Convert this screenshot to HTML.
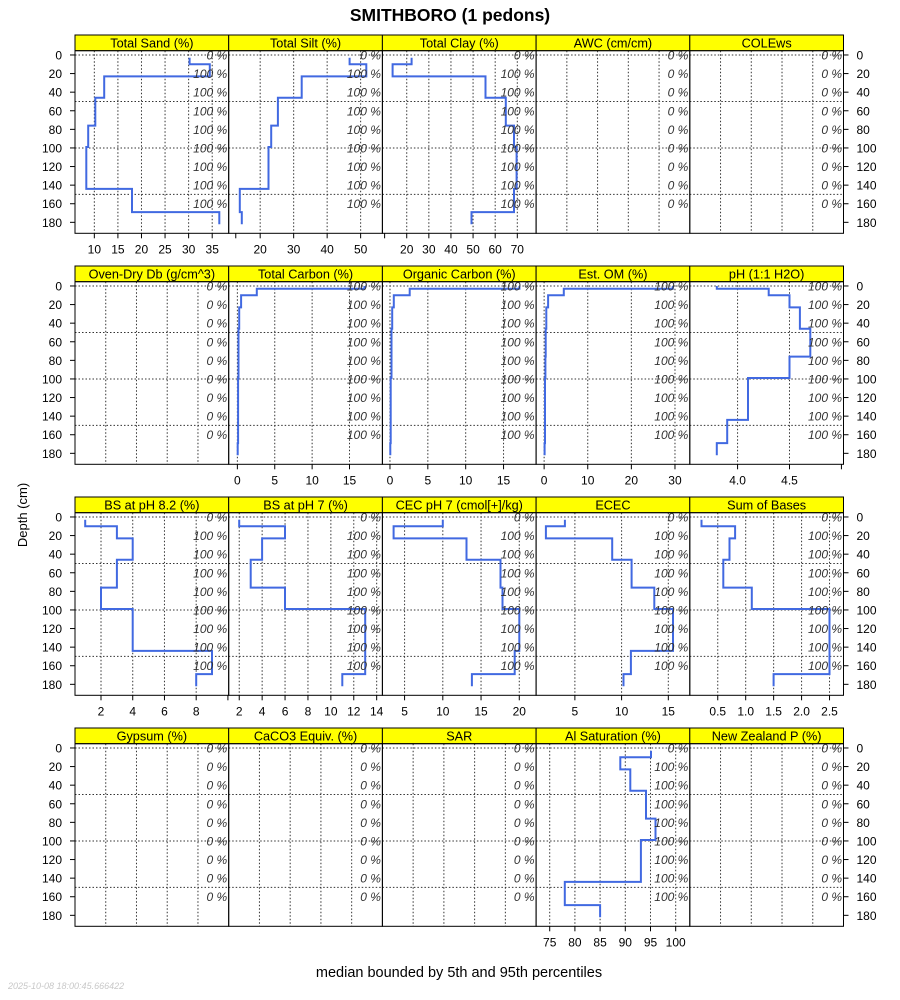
<!DOCTYPE html>
<html><head><meta charset="utf-8"><style>
html,body{margin:0;padding:0;background:#fff;}
svg{display:block;font-family:"Liberation Sans",sans-serif;}
</style></head><body>
<svg id="chart" width="900" height="1000" viewBox="0 0 900 1000" xmlns="http://www.w3.org/2000/svg">
<text x="450" y="21" text-anchor="middle" font-size="17.5" font-weight="bold">SMITHBORO (1 pedons)</text>
<text x="27" y="515" text-anchor="middle" font-size="13" transform="rotate(-90 27 515)">Depth (cm)</text>
<text x="459" y="977" text-anchor="middle" font-size="14.5">median bounded by 5th and 95th percentiles</text>
<text x="8" y="989" font-size="9" font-style="italic" fill="#c8c8c8">2025-10-08 18:00:45.666422</text>
<g id="panels"></g>
</svg>
<script>
// horizon boundaries (cm)
const horizonDepths = [0, 3, 10, 23, 46, 76, 99, 144, 169, 182];
const depthTicks = [0, 20, 40, 60, 80, 100, 120, 140, 160, 180];
const gridDepths = [0, 50, 100, 150];
const pctLabelDepths = [0, 20, 40, 60, 80, 100, 120, 140, 160];

// series values per horizon (null = no data)
const sandVals   = [null, 30.2, 34.5, 12.1, 10.2, 8.7, 8.3, 18, 36.5];
const siltVals   = [null, 46.7, 51.7, 32.4, 25.3, 23.3, 22.5, 13.9, 14.5];
const clayVals   = [null, 22.2, 13.6, 55.6, 64.8, 68.5, 69.7, 68.5, 49.3];
const tcVals     = [17, 2.6, 0.5, 0.25, 0.15, 0.15, 0.1, 0.1, 0.05];
const ocVals     = [17.1, 2.6, 0.5, 0.3, 0.2, 0.2, 0.1, 0.1, 0.05];
const omVals     = [29.5, 4.5, 0.9, 0.5, 0.35, 0.3, 0.2, 0.2, 0.1];
const phVals     = [3.8, 4.3, 4.5, 4.6, 4.7, 4.5, 4.1, 3.9, 3.8];
const bs82Vals   = [null, 1, 3, 4, 3, 2, 4, 9, 8];
const bs7Vals    = [null, 2, 6, 4, 3, 6, 13, 13, 11];
const cecVals    = [null, 10, 3.56, 13.1, 17.55, 17.8, 20, 19.4, 13.8];
const ececVals   = [null, 3.93, 1.9, 9.0, 11.07, 13.5, 15.5, 11, 10.2];
const sumVals    = [null, 0.21, 0.81, 0.71, 0.6, 1.11, 2.5, 2.5, 1.5];
const alVals     = [null, 95.1, 89, 91, 94.1, 96, 93.1, 78, 85];

// percent-of-data labels
const pctSome = ["0 %","100 %","100 %","100 %","100 %","100 %","100 %","100 %","100 %"];
const pctAll  = ["100 %","100 %","100 %","100 %","100 %","100 %","100 %","100 %","100 %"];
const pctNone = ["0 %","0 %","0 %","0 %","0 %","0 %","0 %","0 %","0 %"];

// tick labels
const sandTicks = [10,15,20,25,30,35];
const siltTicks = [20,30,40,50];
const clayTicks = [20,30,40,50,60,70];
const cTicks = [0,5,10,15];
const omTicks = [0,10,20,30];
const phTicks = ["4.0","4.5"];
const bs82Ticks = [2,4,6,8];
const bs7Ticks = [2,4,6,8,10,12,14];
const cecTicks = [5,10,15,20];
const ececTicks = [5,10,15];
const sumTicks = ["0.5","1.0","1.5","2.0","2.5"];
const alTicks = [75,80,85,90,95,100];

const panels = [
 {t:"Total Sand (%)", v:sandVals, p:pctSome, lim:[5.9,38.5], ticks:sandTicks, extra:[40]},
 {t:"Total Silt (%)", v:siltVals, p:pctSome, lim:[10.6,56.5], ticks:siltTicks, extra:[]},
 {t:"Total Clay (%)", v:clayVals, p:pctSome, lim:[9,78.5], ticks:clayTicks, extra:[10]},
 {t:"AWC (cm/cm)", v:null, p:pctNone},
 {t:"COLEws", v:null, p:pctNone},
 {t:"Oven-Dry Db (g/cm^3)", v:null, p:pctNone},
 {t:"Total Carbon (%)", v:tcVals, p:pctAll, lim:[-1.16,19.4], ticks:cTicks, extra:[]},
 {t:"Organic Carbon (%)", v:ocVals, p:pctAll, lim:[-1.0,19.3], ticks:cTicks, extra:[]},
 {t:"Est. OM (%)", v:omVals, p:pctAll, lim:[-1.84,33.4], ticks:omTicks, extra:[]},
 {t:"pH (1:1 H2O)", v:phVals, p:pctAll, lim:[3.54,5.02], ticks:phTicks, extra:[5.0]},
 {t:"BS at pH 8.2 (%)", v:bs82Vals, p:pctSome, lim:[0.36,10.05], ticks:bs82Ticks, extra:[10]},
 {t:"BS at pH 7 (%)", v:bs7Vals, p:pctSome, lim:[1.08,14.5], ticks:bs7Ticks, extra:[]},
 {t:"CEC pH 7 (cmol[+]/kg)", v:cecVals, p:pctSome, lim:[2.1,22.2], ticks:cecTicks, extra:[]},
 {t:"ECEC", v:ececVals, p:pctSome, lim:[0.85,17.3], ticks:ececTicks, extra:[]},
 {t:"Sum of Bases", v:sumVals, p:pctSome, lim:[0.0,2.75], ticks:sumTicks, extra:[]},
 {t:"Gypsum (%)", v:null, p:pctNone},
 {t:"CaCO3 Equiv. (%)", v:null, p:pctNone},
 {t:"SAR", v:null, p:pctNone},
 {t:"Al Saturation (%)", v:alVals, p:pctSome, lim:[72.3,102.8], ticks:alTicks, extra:[]},
 {t:"New Zealand P (%)", v:null, p:pctNone}
];

const NS = "http://www.w3.org/2000/svg";
const root = document.getElementById("panels");
const L0 = 75, PW = 153.7, ROWH = 231, STRIP_H = 15.7;
const DMIN = -4.6, DMAX = 191.8;

function mk(tag, attrs, parent) {
  const e = document.createElementNS(NS, tag);
  for (const k in attrs) e.setAttribute(k, attrs[k]);
  parent.appendChild(e);
  return e;
}

panels.forEach((pn, i) => {
  const r = Math.floor(i / 5), c = i % 5;
  const x0 = L0 + c * PW, x1 = x0 + PW;
  const sTop = 35 + r * ROWH;
  const pTop = sTop + STRIP_H, pBot = 233.3 + r * ROWH;
  const yS = d => pTop + (d - DMIN) / (DMAX - DMIN) * (pBot - pTop);
  const g = mk("g", {}, root);
  
  

  const strip = mk("rect", {x:x0, y:sTop, width:PW, height:STRIP_H, fill:"#ffff00", stroke:"#000", "stroke-width":1}, g);
  
  
  const st = mk("text", {x:(x0+x1)/2, y:sTop+12.3, "text-anchor":"middle", "font-size":12.7}, g);
  st.textContent = pn.t;
  
  

  let xS = null;
  if (pn.lim) xS = v => x0 + (v - pn.lim[0]) / (pn.lim[1] - pn.lim[0]) * PW;

  // grid
  gridDepths.forEach(d => {
    const ln = mk("line", {x1:x0, x2:x1, y1:yS(d), y2:yS(d), stroke:"#333", "stroke-width":1, "stroke-dasharray":"1.5,2"}, g);
    
    
  });
  const gx = xS ? pn.ticks.map(t => xS(parseFloat(t))) : [0.2,0.4,0.6,0.8].map(f => x0 + f * PW);
  gx.forEach(x => {
    const ln = mk("line", {x1:x, x2:x, y1:pTop, y2:pBot, stroke:"#333", "stroke-width":1, "stroke-dasharray":"1.5,2"}, g);
    
    
  });

  // series
  if (pn.v) {
    let pts = [];
    for (let h = 0; h < pn.v.length; h++) {
      const v = pn.v[h];
      if (v === null) continue;
      pts.push([xS(v), yS(horizonDepths[h])]);
      pts.push([xS(v), yS(horizonDepths[h+1])]);
    }
    const pl = mk("polyline", {points:pts.map(p => p[0].toFixed(1)+","+p[1].toFixed(1)).join(" "), fill:"none", stroke:"#4169e1", "stroke-width":2}, g);
    
    
  }

  // pct labels
  pctLabelDepths.forEach((d, k) => {
    const t = mk("text", {x:x1-1.5, y:yS(d)+4.5, "text-anchor":"end", "font-size":12, "font-style":"italic", fill:"#333"}, g);
    t.textContent = pn.p[k];
    
    
  });

  // frame
  const fr = mk("rect", {x:x0, y:pTop, width:PW, height:pBot-pTop, fill:"none", stroke:"#000", "stroke-width":1}, g);
  
  

  // x ticks
  if (xS) {
    pn.ticks.forEach(t => {
      const x = xS(parseFloat(t));
      const tl = mk("line", {x1:x, x2:x, y1:pBot, y2:pBot+5, stroke:"#000"}, g);
      
      
      const tx = mk("text", {x:x, y:pBot+20, "text-anchor":"middle", "font-size":12}, g);
      tx.textContent = t;
      
      
    });
    pn.extra.forEach(t => {
      const x = xS(t);
      const tl = mk("line", {x1:x, x2:x, y1:pBot, y2:pBot+5, stroke:"#000"}, g);
      
      
    });
  }

  // y axes
  if (c === 0 || c === 4) {
    depthTicks.forEach(d => {
      const y = yS(d);
      const left = c === 0;
      const tl = mk("line", {x1:left?x0:x1, x2:left?x0-5:x1+5, y1:y, y2:y, stroke:"#000"}, g);
      
      
      const tx = mk("text", {x:left?x0-13:x1+13, y:y+4.5, "text-anchor":left?"end":"start", "font-size":12}, g);
      tx.textContent = d;
      
      
    });
  }
});
</script>
</body></html>
